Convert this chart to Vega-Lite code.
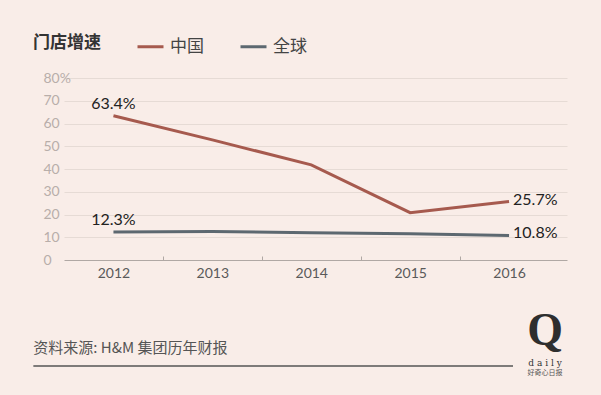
{
  "$schema": "https://vega.github.io/schema/vega-lite/v6.json",
  "width": 503,
  "height": 182,
  "autosize": "none",
  "padding": {"left": 64, "top": 78, "right": 34, "bottom": 135},
  "background": "#f9ede8",
  "config": {"view": {"stroke": null}, "font": "Lato, Noto Sans CJK SC"},
  "data": {
    "values": [
      {"year": 2012, "series": "中国", "value": 63.4},
      {"year": 2013, "series": "中国", "value": 52.8},
      {"year": 2014, "series": "中国", "value": 41.8},
      {"year": 2015, "series": "中国", "value": 20.8},
      {"year": 2016, "series": "中国", "value": 25.7},
      {"year": 2012, "series": "全球", "value": 12.3},
      {"year": 2013, "series": "全球", "value": 12.5},
      {"year": 2014, "series": "全球", "value": 12.0},
      {"year": 2015, "series": "全球", "value": 11.5},
      {"year": 2016, "series": "全球", "value": 10.8}
    ]
  },
  "layer": [
    {
      "mark": {"type": "line", "strokeWidth": 3},
      "encoding": {
        "x": {
          "field": "year",
          "type": "quantitative",
          "scale": {"domain": [2011.5, 2016.586], "nice": false, "zero": false},
          "axis": {
            "title": null,
            "values": [2012, 2013, 2014, 2015, 2016],
            "format": "d",
            "grid": false,
            "domain": true,
            "domainColor": "#b0a8a4",
            "ticks": true,
            "tickSize": -4,
            "tickOffset": 49.5,
            "labelOffset": -49.5,
            "tickColor": {"condition": {"test": "datum.value == 2016", "value": "transparent"}, "value": "#b0a8a4"},
            "labelFontSize": 14,
            "labelColor": "#5a5a5a",
            "labelPadding": 10,
            "labelFont": "Lato"
          }
        },
        "y": {
          "field": "value",
          "type": "quantitative",
          "scale": {"domain": [0, 80], "nice": false},
          "axis": {
            "title": null,
            "values": [0, 10, 20, 30, 40, 50, 60, 70, 80],
            "labelExpr": "datum.value == 80 ? '80%' : datum.label",
            "labelOverlap": false,
            "domain": false,
            "ticks": false,
            "tickSize": 0,
            "labelAlign": "left",
            "labelPadding": 21,
            "labelFontSize": 14,
            "labelColor": "#b8aeaa",
            "labelFont": "Lato",
            "gridColor": {"condition": {"test": "datum.value == 0", "value": "transparent"}, "value": "#e6dbd5"},
            "gridWidth": 1
          }
        },
        "color": {
          "field": "series",
          "type": "nominal",
          "scale": {"domain": ["中国", "全球"], "range": ["#a65a4e", "#5d6870"]},
          "legend": {
            "orient": "none",
            "legendX": -31,
            "legendY": -46,
            "direction": "horizontal",
            "title": "门店增速",
            "titleOrient": "left",
            "titleFontSize": 17,
            "titleFontWeight": "bold",
            "titleColor": "#333333",
            "titlePadding": 35,
            "titleFont": "Noto Sans CJK SC",
            "symbolType": "stroke",
            "symbolSize": 676,
            "symbolStrokeWidth": 3,
            "labelFontSize": 17,
            "labelColor": "#444444",
            "labelFont": "Noto Sans CJK SC",
            "labelOffset": 5,
            "columnPadding": 30
          }
        }
      }
    },
    {
      "transform": [
        {"filter": "datum.year == 2012"},
        {"calculate": "format(datum.value, '.1f') + '%'", "as": "label"}
      ],
      "mark": {"type": "text", "align": "center", "baseline": "middle", "dy": -12, "fontSize": 16, "color": "#222222", "font": "Lato"},
      "encoding": {
        "x": {"field": "year", "type": "quantitative", "axis": {"title": null, "values": [2012, 2013, 2014, 2015, 2016]}},
        "y": {"field": "value", "type": "quantitative", "axis": {"title": null, "values": [0, 10, 20, 30, 40, 50, 60, 70, 80]}},
        "text": {"field": "label"}
      }
    },
    {
      "transform": [
        {"filter": "datum.year == 2016"},
        {"calculate": "format(datum.value, '.1f') + '%'", "as": "label"}
      ],
      "mark": {"type": "text", "align": "left", "baseline": "middle", "dx": 4, "dy": -2, "fontSize": 16, "color": "#222222", "font": "Lato"},
      "encoding": {
        "x": {"field": "year", "type": "quantitative", "axis": {"title": null, "values": [2012, 2013, 2014, 2015, 2016]}},
        "y": {"field": "value", "type": "quantitative", "axis": {"title": null, "values": [0, 10, 20, 30, 40, 50, 60, 70, 80]}},
        "text": {"field": "label"}
      }
    },
    {
      "data": {"values": [{"t": "资料来源: H&M 集团历年财报"}]},
      "mark": {"type": "text", "align": "left", "baseline": "middle", "fontSize": 15, "font": "Noto Sans CJK SC", "color": "#555555"},
      "encoding": {
        "x": {"datum": 2011.19, "type": "quantitative", "axis": {"title": null, "values": [2012, 2013, 2014, 2015, 2016]}},
        "y": {"datum": -38.7, "type": "quantitative", "axis": {"title": null, "values": [0, 10, 20, 30, 40, 50, 60, 70, 80]}},
        "text": {"field": "t"}
      }
    },
    {
      "data": {"values": [{}]},
      "mark": {"type": "rule", "color": "#555555", "strokeWidth": 1.5},
      "encoding": {
        "x": {"datum": 2011.19, "type": "quantitative", "axis": {"title": null, "values": [2012, 2013, 2014, 2015, 2016]}},
        "x2": {"datum": 2016.04},
        "y": {"datum": -46.6, "type": "quantitative", "axis": {"title": null, "values": [0, 10, 20, 30, 40, 50, 60, 70, 80]}}
      }
    },
    {
      "data": {"values": [{"t": "Q"}]},
      "mark": {"type": "text", "align": "center", "baseline": "middle", "fontSize": 46, "fontWeight": "bold", "font": "Liberation Sans Narrow", "color": "#2e2e2e"},
      "encoding": {
        "x": {"datum": 2016.364, "type": "quantitative", "axis": {"title": null, "values": [2012, 2013, 2014, 2015, 2016]}},
        "y": {"datum": -31, "type": "quantitative", "axis": {"title": null, "values": [0, 10, 20, 30, 40, 50, 60, 70, 80]}},
        "text": {"field": "t"}
      }
    },
    {
      "data": {"values": [{"t": "d a i l y"}]},
      "mark": {"type": "text", "align": "center", "baseline": "middle", "fontSize": 10, "font": "DejaVu Serif Condensed", "color": "#333333"},
      "encoding": {
        "x": {"datum": 2016.364, "type": "quantitative", "axis": {"title": null, "values": [2012, 2013, 2014, 2015, 2016]}},
        "y": {"datum": -45.3, "type": "quantitative", "axis": {"title": null, "values": [0, 10, 20, 30, 40, 50, 60, 70, 80]}},
        "text": {"field": "t"}
      }
    },
    {
      "data": {"values": [{"t": "好奇心日报"}]},
      "mark": {"type": "text", "align": "center", "baseline": "middle", "fontSize": 7, "font": "Noto Sans CJK SC", "color": "#555555"},
      "encoding": {
        "x": {"datum": 2016.364, "type": "quantitative", "axis": {"title": null, "values": [2012, 2013, 2014, 2015, 2016]}},
        "y": {"datum": -49.5, "type": "quantitative", "axis": {"title": null, "values": [0, 10, 20, 30, 40, 50, 60, 70, 80]}},
        "text": {"field": "t"}
      }
    }
  ]
}
